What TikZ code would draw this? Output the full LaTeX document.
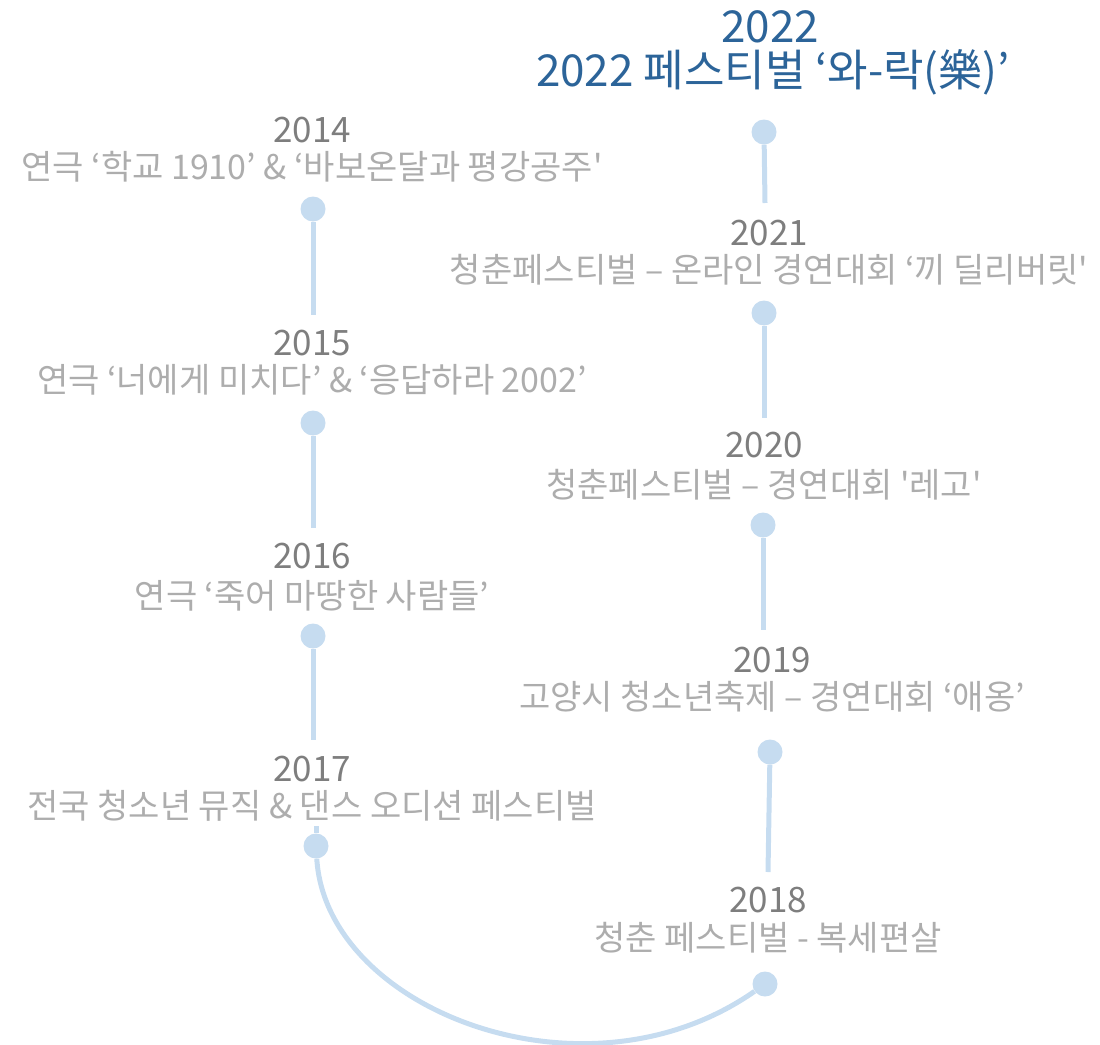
\documentclass[tikz,border=0pt]{standalone}
\usepackage{fontspec}
\newfontfamily\krfont{Noto Sans CJK KR}
\usetikzlibrary{positioning}
\definecolor{dotblue}{HTML}{C6DCF0}
\definecolor{yeargray}{HTML}{7E7E7E}
\definecolor{evtgray}{HTML}{ADADAD}
\definecolor{titleblue}{HTML}{2C6499}

\begin{document}
\begin{tikzpicture}[x=1pt,y=-1pt,
  dot/.style={circle,fill=dotblue,inner sep=0pt,minimum size=25pt},
  yr/.style={text=yeargray,inner sep=0pt,font=\krfont\fontsize{35}{35}\selectfont},
  evt/.style={text=evtgray,inner sep=0pt,font=\krfont\fontsize{34}{34}\selectfont},
  ttl/.style={text=titleblue,inner sep=0pt,font=\krfont\fontsize{44}{44}\selectfont},
  tline/.style={draw=dotblue,line width=5pt}]
\useasboundingbox (0,0) rectangle (1100,1044);
\node[ttl](y2022) at (770,27){2022};
\node[ttl](e2022) at (773,72){2022 페스티벌 ‘와-락(樂)’};
\node[dot](d2022) at (764,132){};
\node[yr](y2014) at (312,130){2014};
\node[evt](e2014) at (312,167){연극 ‘학교 1910’ \& ‘바보온달과 평강공주'};
\node[dot](d2014) at (313,209){};
\node[yr](y2021) at (769,233){2021};
\node[evt](e2021) at (769,270){청춘페스티벌 – 온라인 경연대회 ‘끼 딜리버릿'};
\node[dot](d2021) at (764,313){};
\node[yr](y2015) at (312,343){2015};
\node[evt](e2015) at (312,380){연극 ‘너에게 미치다’ \& ‘응답하라 2002’};
\node[dot](d2015) at (313,423){};
\node[yr](y2020) at (764,445){2020};
\node[evt](e2020) at (764,485){청춘페스티벌 – 경연대회 '레고'};
\node[dot](d2020) at (763,525){};
\node[yr](y2016) at (312,556){2016};
\node[evt](e2016) at (312,596){연극 ‘죽어 마땅한 사람들’};
\node[dot](d2016) at (313,636){};
\node[yr](y2019) at (772,660){2019};
\node[evt](e2019) at (772,697){고양시 청소년축제 – 경연대회 ‘애옹’};
\node[dot](d2019) at (770,752){};
\node[yr](y2017) at (312,769){2017};
\node[evt](e2017) at (312,806){전국 청소년 뮤직 \& 댄스 오디션 페스티벌};
\node[dot](d2017) at (316,846){};
\node[yr](y2018) at (768,900){2018};
\node[evt](e2018) at (768,938){청춘 페스티벌 - 복세편살};
\node[dot](d2018) at (765,984){};
\coordinate (t2014) at (313,315);
\coordinate (t2015) at (313,528);
\coordinate (t2016) at (313,740);
\coordinate (b2017) at (316,826);
\coordinate (t2022) at (765,203);
\coordinate (t2021) at (764,418);
\coordinate (t2020) at (763,630);
\coordinate (t2019) at (768,872);
\draw[tline] (d2014) -- (t2014);
\draw[tline] (d2015) -- (t2015);
\draw[tline] (d2016) -- (t2016);
\draw[tline] (b2017) -- (d2017);
\draw[tline] (d2022) -- (t2022);
\draw[tline] (d2021) -- (t2021);
\draw[tline] (d2020) -- (t2020);
\draw[tline] (d2019) -- (t2019);
\draw[tline] (d2017) .. controls (326,1010) and (585,1110) .. (d2018);
\end{tikzpicture}
\end{document}
